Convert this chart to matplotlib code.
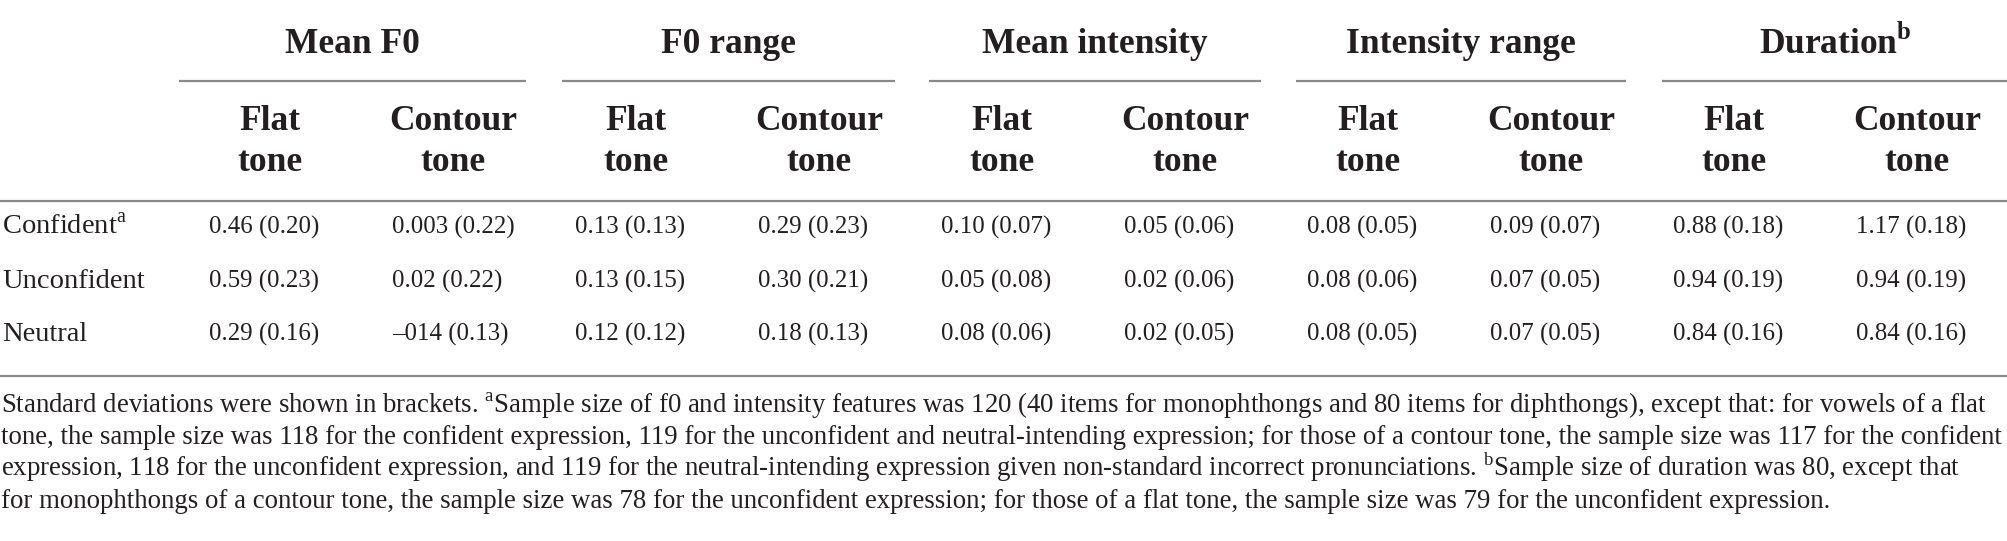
# table of acoustic features (mean and SD) drawn as text with matplotlib

import matplotlib
matplotlib.use('Agg')
import matplotlib.pyplot as plt

plt.rcParams['font.family'] = ['Liberation Serif', 'DejaVu Serif']
plt.rcParams['mathtext.fontset'] = 'custom'
plt.rcParams['mathtext.rm'] = 'Liberation Serif'
plt.rcParams['mathtext.bf'] = 'Liberation Serif:bold'

groups = ['Mean F0', 'F0 range', 'Mean intensity', 'Intensity range', r'Duration$^{\mathbf{b}}$']
tones = [('Flat', 'tone'), ('Contour', 'tone')]
rows = [r'Confident$^{\mathrm{a}}$', 'Unconfident', 'Neutral']

mean_confident = ['0.46', '0.003', '0.13', '0.29', '0.10', '0.05', '0.08', '0.09', '0.88', '1.17']
sd_confident = ['0.20', '0.22', '0.13', '0.23', '0.07', '0.06', '0.05', '0.07', '0.18', '0.18']
mean_unconfident = ['0.59', '0.02', '0.13', '0.30', '0.05', '0.02', '0.08', '0.07', '0.94', '0.94']
sd_unconfident = ['0.23', '0.22', '0.15', '0.21', '0.08', '0.06', '0.06', '0.05', '0.19', '0.19']
mean_neutral = ['0.29', '\u2013014', '0.12', '0.18', '0.08', '0.02', '0.08', '0.07', '0.84', '0.84']
sd_neutral = ['0.16', '0.13', '0.12', '0.13', '0.06', '0.05', '0.05', '0.05', '0.16', '0.16']

footnote = [
    r'Standard deviations were shown in brackets. $^{\mathrm{a}}$Sample size of f0 and intensity features was 120 (40 items for monophthongs and 80 items for diphthongs), except that: for vowels of a flat',
    'tone, the sample size was 118 for the confident expression, 119 for the unconfident and neutral-intending expression; for those of a contour tone, the sample size was 117 for the confident',
    r'expression, 118 for the unconfident expression, and 119 for the neutral-intending expression given non-standard incorrect pronunciations. $^{\mathrm{b}}$Sample size of duration was 80, except that',
    'for monophthongs of a contour tone, the sample size was 78 for the unconfident expression; for those of a flat tone, the sample size was 79 for the unconfident expression.',
]

txt = '#231f20'
rule = '#8a8a8a'

W, H = 2008, 541
fig = plt.figure(figsize=(W / 100, H / 100), dpi=100)
ax = fig.add_axes([0, 0, 1, 1])
ax.set_xlim(0, W)
ax.set_ylim(H, 0)
ax.axis('off')
renderer = fig.canvas.get_renderer()

def fit_size(s, target, size0=16, **kw):
    t = ax.text(0, 0, s, fontsize=size0, **kw)
    w = t.get_window_extent(renderer).width
    t.remove()
    return size0 * target / w

# layout
col_left = [209 + 183 * i for i in range(10)]
col_center = [c + 61 for c in col_left]
grp_lines = [(179, 526), (562, 895), (929, 1261), (1296, 1626), (1662, 2008)]

# group headers and their rules
for g, (x0, x1) in zip(groups, grp_lines):
    ax.text((x0 + x1) / 2, 53, g, fontsize=25.5, fontweight='bold', color=txt,
            ha='center', va='baseline')
    ax.plot([x0, x1], [81, 81], color=rule, lw=1.6, solid_capstyle='butt')

# sub headers
for i, c in enumerate(col_center):
    top, bot = tones[i % 2]
    ax.text(c, 130, top, fontsize=25.5, fontweight='bold', color=txt, ha='center', va='baseline')
    ax.text(c, 171, bot, fontsize=25.5, fontweight='bold', color=txt, ha='center', va='baseline')

ax.plot([0, W], [201, 201], color=rule, lw=1.6, solid_capstyle='butt')

means = [mean_confident, mean_unconfident, mean_neutral]
sds = [sd_confident, sd_unconfident, sd_neutral]
row_base = [234, 288, 341]

for r, lab in enumerate(rows):
    ax.text(2, row_base[r], lab, fontsize=20.5, color=txt, ha='left', va='baseline')
    for j in range(10):
        ax.text(col_left[j], row_base[r], '%s (%s)' % (means[r][j], sds[r][j]),
                fontsize=17.9, color=txt, ha='left', va='baseline')

ax.plot([0, W], [376, 376], color=rule, lw=1.6, solid_capstyle='butt')

fs = fit_size(footnote[1], 2003)
for k, line in enumerate(footnote):
    ax.text(1, 412 + 32 * k, line, fontsize=fs, color=txt, ha='left', va='baseline')

fig.savefig('out.png', dpi=100, facecolor='white')
